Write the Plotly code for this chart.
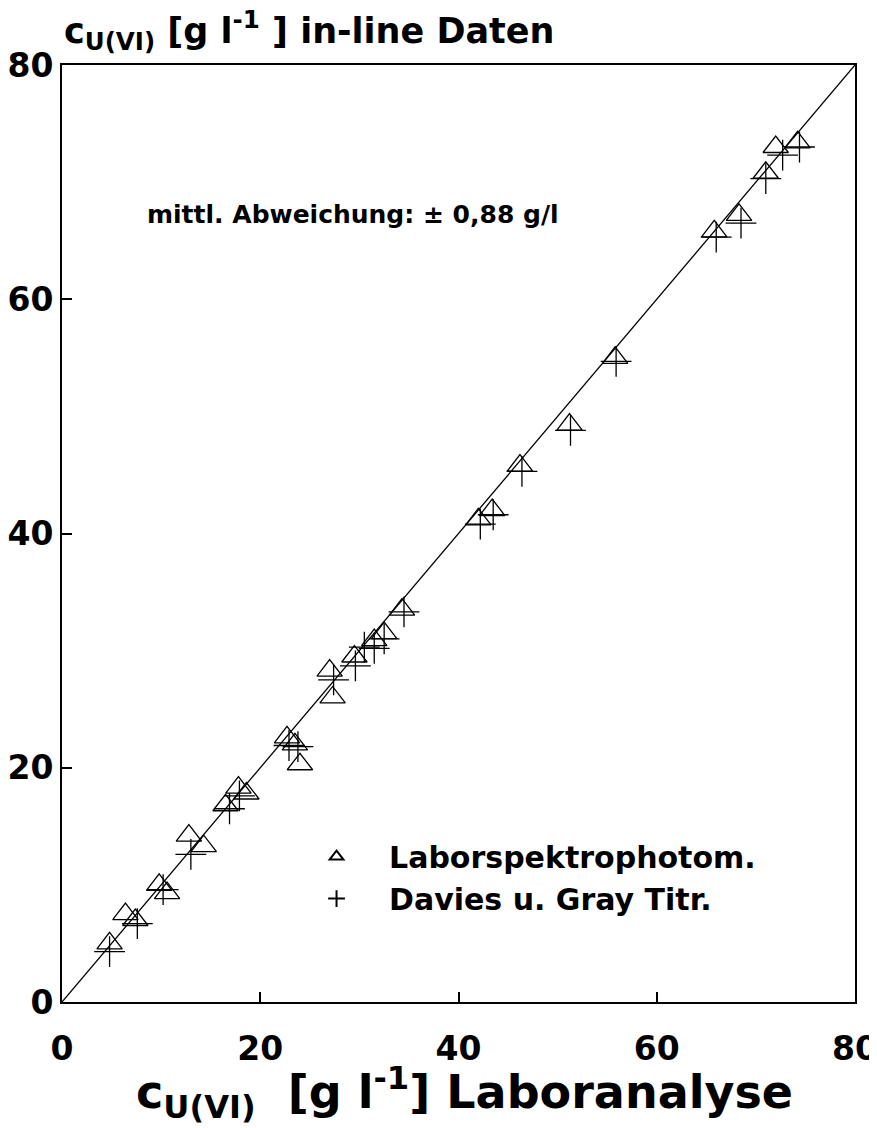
import plotly.graph_objects as go

# Laborspektrophotometrie (triangles)
tri_x = [4.8, 6.4, 7.4, 9.8, 10.6, 12.8, 14.3, 16.5, 17.8, 18.6, 22.7, 23.5, 24.0, 27.3, 27.0,
         29.5, 31.5, 32.5, 34.3, 42.0, 43.4, 46.2, 51.2, 55.8, 65.8, 68.3, 71.0, 72.0, 74.2]
tri_y = [5.0, 7.5, 7.0, 10.0, 9.3, 14.2, 13.3, 16.8, 18.3, 17.8, 22.6, 22.0, 20.3, 26.0, 28.3,
         29.5, 30.9, 31.5, 33.5, 41.2, 42.0, 45.8, 49.3, 55.0, 65.8, 67.2, 70.8, 73.0, 73.4]

# Davies u. Gray Titration (crosses)
crs_x = [4.8, 7.6, 10.2, 13.0, 16.9, 17.9, 22.9, 23.8, 27.4, 29.6, 30.5, 31.5, 32.5, 34.5,
         42.2, 43.5, 46.4, 51.3, 55.9, 66.0, 68.5, 71.0, 72.7, 74.4]
crs_y = [4.3, 6.7, 9.6, 12.6, 16.5, 17.6, 21.9, 21.8, 27.5, 28.7, 30.3, 30.2, 31.0, 33.3,
         40.8, 41.6, 45.3, 48.8, 54.7, 65.3, 66.5, 70.3, 72.3, 73.0]

line_x = [0, 80]
line_y = [0, 80]

tick_vals = [0, 20, 40, 60, 80]

FONT = "DejaVu Sans"

fig = go.Figure()
fig.add_trace(go.Scatter(x=line_x, y=line_y, mode="lines",
                         line=dict(color="black", width=1.3), showlegend=False, hoverinfo="skip"))
fig.add_trace(go.Scatter(x=tri_x, y=tri_y, mode="markers", name="Laborspektrophotom.",
                         marker=dict(symbol="triangle-up-open", size=22, color="black",
                                     line=dict(width=1.3, color="black"))))
fig.add_trace(go.Scatter(x=crs_x, y=crs_y, mode="markers", name="Davies u. Gray Titr.",
                         marker=dict(symbol="cross-thin-open", size=22, color="black",
                                     line=dict(width=1.3, color="black"))))

axis_common = dict(range=[0, 80], tickvals=tick_vals, ticks="inside", ticklen=10, tickwidth=1.5,
                   tickcolor="black", showline=True, linecolor="black", linewidth=2, mirror=True,
                   showgrid=False, zeroline=False, ticklabeloverflow="allow",
                   tickfont=dict(family=FONT, size=33, color="black", weight="bold"))

fig.update_xaxes(**axis_common)
fig.update_yaxes(**axis_common)
fig.update_xaxes(ticklabelstandoff=16)
fig.update_yaxes(ticklabelstandoff=0)

fig.update_layout(
    width=869, height=1120,
    margin=dict(l=54, r=22, t=57, b=126, autoexpand=False),
    paper_bgcolor="white", plot_bgcolor="white",
    showlegend=True,
    legend=dict(x=0.28, y=0.183, xanchor="left", yanchor="top", bgcolor="rgba(0,0,0,0)",
                font=dict(family=FONT, size=30, color="black", weight="bold"),
                itemsizing="constant", itemwidth=95, tracegroupgap=7),
    annotations=[
        dict(text="c<sub>U(VI)</sub> [g l<sup>-1</sup> ] in-line Daten", xref="paper", yref="paper",
             x=0.0, y=1.0, xanchor="left", yanchor="middle", yshift=35, showarrow=False,
             font=dict(family=FONT, size=35, color="black", weight="bold")),
        dict(text="c<sub>U(VI)</sub>  [g l<sup>-1</sup>] Laboranalyse", xref="paper", yref="paper",
             x=0.508, y=0.0, xanchor="center", yanchor="middle", yshift=-90, showarrow=False,
             font=dict(family=FONT, size=46, color="black", weight="bold")),
        dict(text="mittl. Abweichung: ± 0,88 g/l", xref="paper", yref="paper",
             x=0.105, y=0.84, xanchor="left", yanchor="middle", showarrow=False,
             font=dict(family=FONT, size=25, color="black", weight="bold")),
    ],
)

fig.write_html("out.html")
